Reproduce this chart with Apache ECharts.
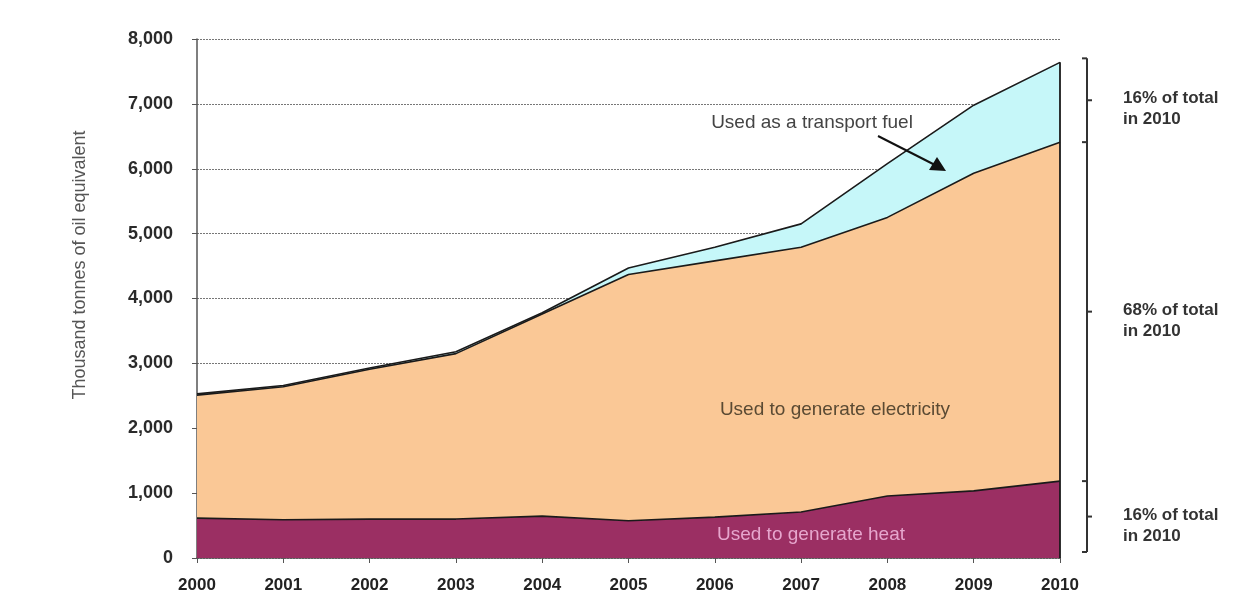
<!DOCTYPE html>
<html>
<head>
<meta charset="utf-8">
<script src="https://cdn.jsdelivr.net/npm/echarts@6/dist/echarts.min.js"></script>
<style>
  html, body { margin: 0; padding: 0; background: #fff; }
  #chart { width: 1252px; height: 605px; }
</style>
</head>
<body>
<div id="chart"></div>
<script>
// years on the x axis
var years = ["2000", "2001", "2002", "2003", "2004", "2005", "2006", "2007", "2008", "2009", "2010"];
// thousand tonnes of oil equivalent, stacked bottom to top
var heat = [615, 590, 600, 600, 645, 575, 630, 710, 955, 1035, 1185];
var electricity = [1895, 2050, 2310, 2550, 3115, 3795, 3950, 4080, 4295, 4895, 5225];
var transport = [20, 20, 20, 30, 20, 100, 210, 360, 830, 1050, 1230];
// share of the 2010 total, top to bottom
var shareLabels = ["16% of total\nin 2010", "68% of total\nin 2010", "16% of total\nin 2010"];

var myChart = echarts.init(document.getElementById("chart"));

var lineStyle = { color: "#1a1a1a", width: 1.6 };

var options = {
  animation: false,
  backgroundColor: "#ffffff",
  grid: { left: 197, right: 192, top: 39, bottom: 47 },
  xAxis: {
    type: "category",
    boundaryGap: false,
    data: years,
    axisLine: { lineStyle: { color: "#555", width: 1.5 } },
    axisTick: { show: true, length: 5, lineStyle: { color: "#555" } },
    axisLabel: {
      fontFamily: "Liberation Sans",
      fontWeight: "bold",
      fontSize: 17,
      color: "#222",
      margin: 19
    },
    splitLine: { show: false }
  },
  yAxis: {
    type: "value",
    min: 0,
    max: 8000,
    interval: 1000,
    axisLine: { show: true, lineStyle: { color: "#555", width: 1.5 } },
    axisTick: { show: true, length: 5, lineStyle: { color: "#555" } },
    axisLabel: {
      fontFamily: "Liberation Sans",
      fontWeight: "bold",
      fontSize: 18,
      color: "#2a2a2a",
      margin: 24
    },
    splitLine: { lineStyle: { color: "#777", type: [2, 1], width: 1.2 } }
  },
  series: [
    {
      name: "Used to generate heat",
      type: "line",
      stack: "total",
      symbol: "none",
      data: heat,
      lineStyle: lineStyle,
      areaStyle: { color: "#9b2f63", opacity: 1 }
    },
    {
      name: "Used to generate electricity",
      type: "line",
      stack: "total",
      symbol: "none",
      data: electricity,
      lineStyle: lineStyle,
      areaStyle: { color: "#fac896", opacity: 1 }
    },
    {
      name: "Used as a transport fuel",
      type: "line",
      stack: "total",
      symbol: "none",
      data: transport,
      lineStyle: lineStyle,
      areaStyle: { color: "#c6f7f9", opacity: 1 }
    }
  ]
};

myChart.setOption(options);

function drawNotes() {
  var last = years.length - 1;
  var h = heat[last];
  var e = h + electricity[last];
  var t = e + transport[last];
  var px = function(v) {
    return myChart.convertToPixel({ xAxisIndex: 0, yAxisIndex: 0 }, [years[last], v]);
  };
  var pTop = px(t), pElec = px(e), pHeat = px(h), pZero = px(0);
  var bx = pTop[0] + 27;
  var edges = [pTop[1] - 4, pElec[1], pHeat[1], pZero[1] - 6];
  var els = [];
  // dark right edge of the stack at 2010
  els.push({
    type: "line",
    shape: { x1: pTop[0], y1: pTop[1], x2: pZero[0], y2: pZero[1] },
    style: { stroke: "#1a1a1a", lineWidth: 1.8 }
  });
  // braces
  els.push({
    type: "line",
    shape: { x1: bx, y1: edges[0], x2: bx, y2: edges[3] },
    style: { stroke: "#333", lineWidth: 2 }
  });
  for (var i = 0; i < edges.length; i++) {
    els.push({
      type: "line",
      shape: { x1: bx - 5, y1: edges[i], x2: bx, y2: edges[i] },
      style: { stroke: "#333", lineWidth: 2 }
    });
  }
  for (var j = 0; j < 3; j++) {
    var mid = (edges[j] + edges[j + 1]) / 2;
    els.push({
      type: "line",
      shape: { x1: bx, y1: mid, x2: bx + 5, y2: mid },
      style: { stroke: "#333", lineWidth: 2 }
    });
    els.push({
      type: "text",
      x: bx + 36,
      y: mid + 9,
      style: {
        text: shareLabels[j],
        font: "bold 17px 'Liberation Sans'",
        fill: "#333",
        lineHeight: 21,
        verticalAlign: "middle",
        align: "left"
      }
    });
  }
  // series annotations
  els.push({
    type: "text", x: 812, y: 123,
    style: { text: "Used as a transport fuel", font: "19px 'Liberation Sans'", fill: "#444",
      align: "center", verticalAlign: "middle" }
  });
  els.push({
    type: "line",
    shape: { x1: 878, y1: 136, x2: 935, y2: 165 },
    style: { stroke: "#111", lineWidth: 2 }
  });
  els.push({
    type: "polygon",
    shape: { points: [[946, 171], [929, 170], [937, 157]] },
    style: { fill: "#111" }
  });
  els.push({
    type: "text", x: 835, y: 410,
    style: { text: "Used to generate electricity", font: "19px 'Liberation Sans'", fill: "#5a4a33",
      align: "center", verticalAlign: "middle" }
  });
  els.push({
    type: "text", x: 811, y: 535,
    style: { text: "Used to generate heat", font: "19px 'Liberation Sans'", fill: "#e6a6cd",
      align: "center", verticalAlign: "middle" }
  });
  // y axis title
  els.push({
    type: "text", x: 80, y: 265, rotation: Math.PI / 2,
    style: { text: "Thousand tonnes of oil equivalent", font: "18px 'Liberation Sans'", fill: "#555",
      align: "center", verticalAlign: "middle" }
  });
  for (var k = 0; k < els.length; k++) {
    els[k].z = 100;
  }
  myChart.setOption({ graphic: { elements: els } });
}

drawNotes();
window.addEventListener("resize", function() {
  myChart.resize();
  drawNotes();
});
</script>
</body>
</html>
